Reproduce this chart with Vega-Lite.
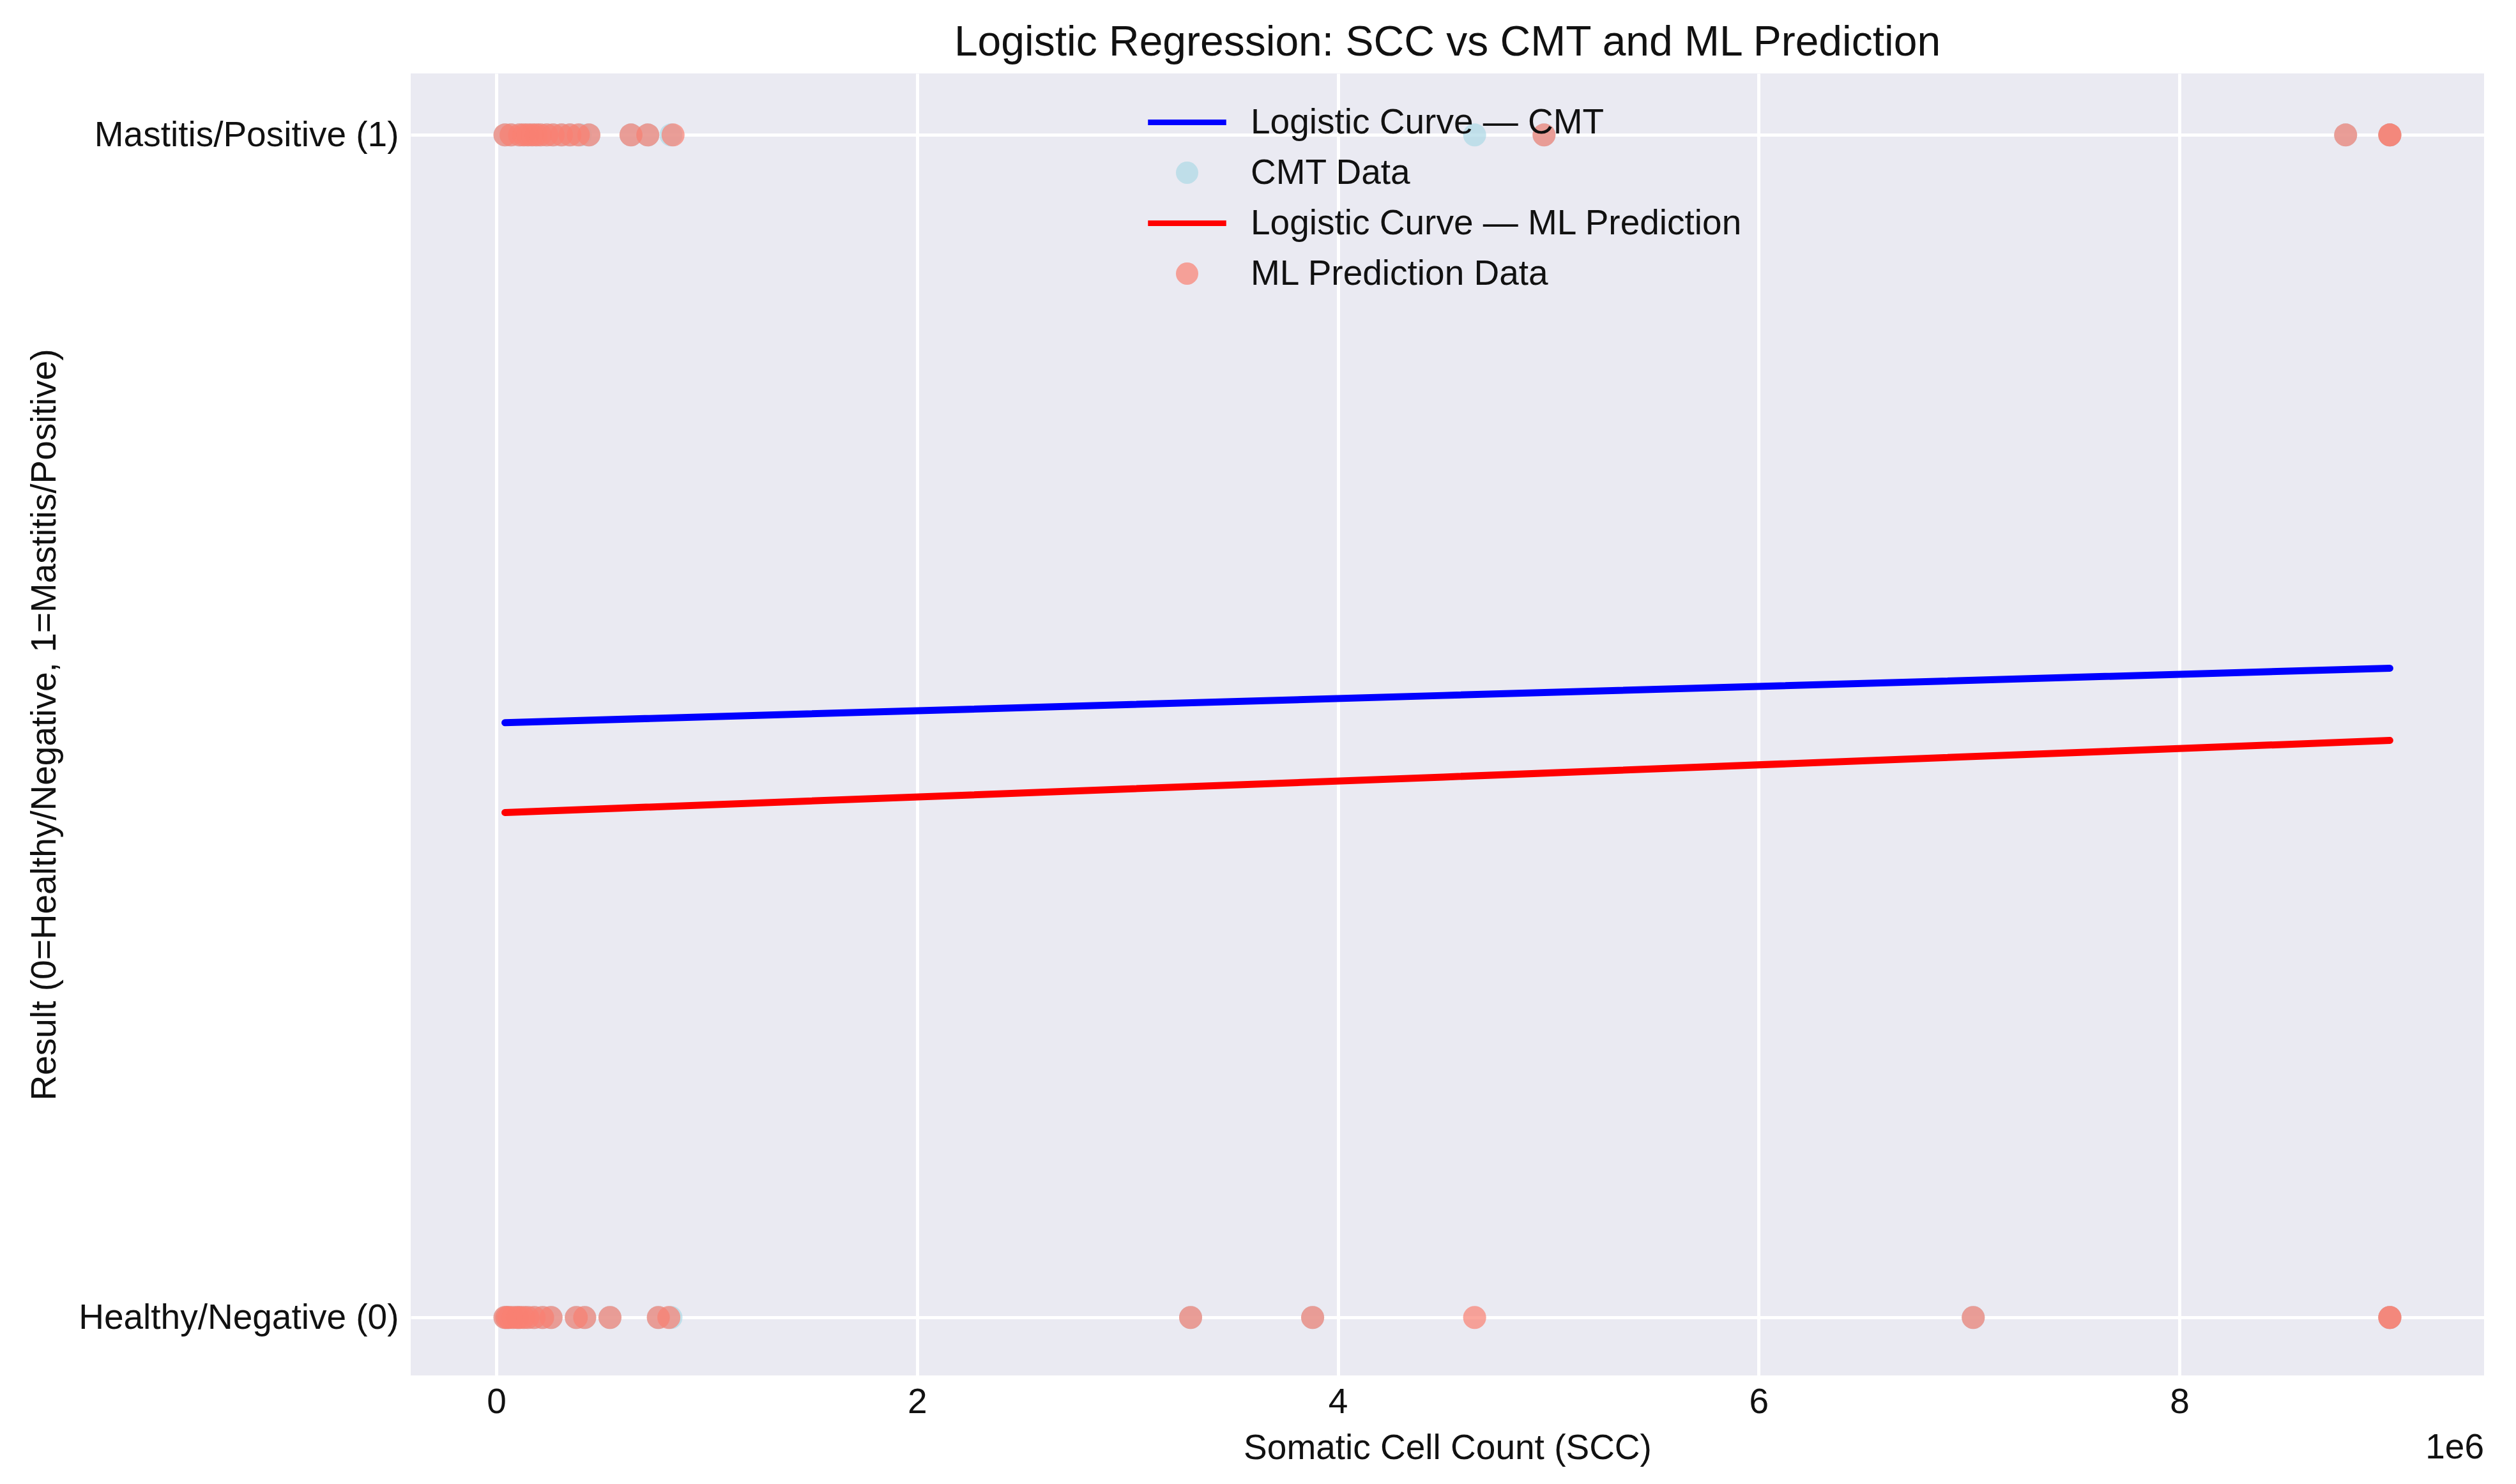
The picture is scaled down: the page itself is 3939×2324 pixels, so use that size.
{
  "$schema": "https://vega.github.io/schema/vega-lite/v6.json",
  "width": 3246,
  "height": 2039,
  "autosize": {"type": "none"},
  "padding": {"left": 643, "top": 115, "right": 50, "bottom": 170},
  "background": "white",
  "title": {
    "text": "Logistic Regression: SCC vs CMT and ML Prediction",
    "fontSize": 66,
    "fontWeight": "normal",
    "font": "Liberation Sans",
    "color": "#111111",
    "anchor": "middle",
    "frame": "group",
    "baseline": "bottom",
    "offset": -52
  },
  "datasets": {
    "curves": [
      {"series": "Logistic Curve — CMT", "scc": 41000, "result": 0.503},
      {"series": "Logistic Curve — CMT", "scc": 4500000, "result": 0.526},
      {"series": "Logistic Curve — CMT", "scc": 9000000, "result": 0.549},
      {"series": "Logistic Curve — ML Prediction", "scc": 41000, "result": 0.427},
      {"series": "Logistic Curve — ML Prediction", "scc": 4500000, "result": 0.457},
      {"series": "Logistic Curve — ML Prediction", "scc": 9000000, "result": 0.488}
    ],
    "points": [
      {"series": "CMT Data", "scc": 41000, "result": 1},
      {"series": "CMT Data", "scc": 70000, "result": 1},
      {"series": "CMT Data", "scc": 110000, "result": 1},
      {"series": "CMT Data", "scc": 130000, "result": 1},
      {"series": "CMT Data", "scc": 150000, "result": 1},
      {"series": "CMT Data", "scc": 170000, "result": 1},
      {"series": "CMT Data", "scc": 190000, "result": 1},
      {"series": "CMT Data", "scc": 210000, "result": 1},
      {"series": "CMT Data", "scc": 240000, "result": 1},
      {"series": "CMT Data", "scc": 270000, "result": 1},
      {"series": "CMT Data", "scc": 310000, "result": 1},
      {"series": "CMT Data", "scc": 350000, "result": 1},
      {"series": "CMT Data", "scc": 400000, "result": 1},
      {"series": "CMT Data", "scc": 440000, "result": 1},
      {"series": "CMT Data", "scc": 640000, "result": 1},
      {"series": "CMT Data", "scc": 720000, "result": 1},
      {"series": "CMT Data", "scc": 830000, "result": 1},
      {"series": "CMT Data", "scc": 4650000, "result": 1},
      {"series": "CMT Data", "scc": 4980000, "result": 1},
      {"series": "CMT Data", "scc": 8790000, "result": 1},
      {"series": "CMT Data", "scc": 9000000, "result": 1},
      {"series": "CMT Data", "scc": 9000000, "result": 1},
      {"series": "CMT Data", "scc": 41000, "result": 0},
      {"series": "CMT Data", "scc": 50000, "result": 0},
      {"series": "CMT Data", "scc": 60000, "result": 0},
      {"series": "CMT Data", "scc": 80000, "result": 0},
      {"series": "CMT Data", "scc": 100000, "result": 0},
      {"series": "CMT Data", "scc": 110000, "result": 0},
      {"series": "CMT Data", "scc": 130000, "result": 0},
      {"series": "CMT Data", "scc": 150000, "result": 0},
      {"series": "CMT Data", "scc": 180000, "result": 0},
      {"series": "CMT Data", "scc": 220000, "result": 0},
      {"series": "CMT Data", "scc": 260000, "result": 0},
      {"series": "CMT Data", "scc": 380000, "result": 0},
      {"series": "CMT Data", "scc": 420000, "result": 0},
      {"series": "CMT Data", "scc": 540000, "result": 0},
      {"series": "CMT Data", "scc": 770000, "result": 0},
      {"series": "CMT Data", "scc": 830000, "result": 0},
      {"series": "CMT Data", "scc": 3300000, "result": 0},
      {"series": "CMT Data", "scc": 3880000, "result": 0},
      {"series": "CMT Data", "scc": 7020000, "result": 0},
      {"series": "CMT Data", "scc": 9000000, "result": 0},
      {"series": "CMT Data", "scc": 9000000, "result": 0},
      {"series": "ML Prediction Data", "scc": 41000, "result": 1},
      {"series": "ML Prediction Data", "scc": 70000, "result": 1},
      {"series": "ML Prediction Data", "scc": 110000, "result": 1},
      {"series": "ML Prediction Data", "scc": 130000, "result": 1},
      {"series": "ML Prediction Data", "scc": 150000, "result": 1},
      {"series": "ML Prediction Data", "scc": 170000, "result": 1},
      {"series": "ML Prediction Data", "scc": 190000, "result": 1},
      {"series": "ML Prediction Data", "scc": 210000, "result": 1},
      {"series": "ML Prediction Data", "scc": 240000, "result": 1},
      {"series": "ML Prediction Data", "scc": 270000, "result": 1},
      {"series": "ML Prediction Data", "scc": 310000, "result": 1},
      {"series": "ML Prediction Data", "scc": 350000, "result": 1},
      {"series": "ML Prediction Data", "scc": 390000, "result": 1},
      {"series": "ML Prediction Data", "scc": 440000, "result": 1},
      {"series": "ML Prediction Data", "scc": 640000, "result": 1},
      {"series": "ML Prediction Data", "scc": 720000, "result": 1},
      {"series": "ML Prediction Data", "scc": 840000, "result": 1},
      {"series": "ML Prediction Data", "scc": 4980000, "result": 1},
      {"series": "ML Prediction Data", "scc": 8790000, "result": 1},
      {"series": "ML Prediction Data", "scc": 9000000, "result": 1},
      {"series": "ML Prediction Data", "scc": 9000000, "result": 1},
      {"series": "ML Prediction Data", "scc": 41000, "result": 0},
      {"series": "ML Prediction Data", "scc": 50000, "result": 0},
      {"series": "ML Prediction Data", "scc": 60000, "result": 0},
      {"series": "ML Prediction Data", "scc": 80000, "result": 0},
      {"series": "ML Prediction Data", "scc": 100000, "result": 0},
      {"series": "ML Prediction Data", "scc": 110000, "result": 0},
      {"series": "ML Prediction Data", "scc": 130000, "result": 0},
      {"series": "ML Prediction Data", "scc": 150000, "result": 0},
      {"series": "ML Prediction Data", "scc": 180000, "result": 0},
      {"series": "ML Prediction Data", "scc": 220000, "result": 0},
      {"series": "ML Prediction Data", "scc": 260000, "result": 0},
      {"series": "ML Prediction Data", "scc": 380000, "result": 0},
      {"series": "ML Prediction Data", "scc": 420000, "result": 0},
      {"series": "ML Prediction Data", "scc": 540000, "result": 0},
      {"series": "ML Prediction Data", "scc": 770000, "result": 0},
      {"series": "ML Prediction Data", "scc": 820000, "result": 0},
      {"series": "ML Prediction Data", "scc": 3300000, "result": 0},
      {"series": "ML Prediction Data", "scc": 3880000, "result": 0},
      {"series": "ML Prediction Data", "scc": 4650000, "result": 0},
      {"series": "ML Prediction Data", "scc": 7020000, "result": 0},
      {"series": "ML Prediction Data", "scc": 9000000, "result": 0},
      {"series": "ML Prediction Data", "scc": 9000000, "result": 0}
    ]
  },
  "layer": [
    {
      "data": {"name": "curves"},
      "mark": {"type": "line", "strokeWidth": 11, "strokeCap": "round"},
      "encoding": {
        "x": {
          "field": "scc",
          "type": "quantitative",
          "scale": {"domain": [-407000, 9448000], "nice": false, "zero": false},
          "axis": {
            "title": "Somatic Cell Count (SCC)",
            "values": [0, 2000000, 4000000, 6000000, 8000000],
            "labelExpr": "format(datum.value / 1000000, 'd')",
            "labelPadding": 15,
            "titlePadding": 18
          }
        },
        "y": {
          "field": "result",
          "type": "quantitative",
          "scale": {"domain": [-0.049, 1.052], "nice": false, "zero": false},
          "axis": {
            "title": "Result (0=Healthy/Negative, 1=Mastitis/Positive)",
            "values": [0, 1],
            "labelExpr": "datum.value == 1 ? 'Mastitis/Positive (1)' : 'Healthy/Negative (0)'",
            "labelPadding": 19,
            "labelLimit": 1000,
            "titlePadding": 345
          }
        },
        "color": {
          "field": "series",
          "type": "nominal",
          "scale": {
            "domain": ["Logistic Curve — CMT", "CMT Data", "Logistic Curve — ML Prediction", "ML Prediction Data"],
            "range": ["#0000ff", "#add8e6", "#ff0000", "#fa8072"]
          },
          "legend": {
            "title": null,
            "orient": "none",
            "legendX": 1188,
            "legendY": 49,
            "padding": 0,
            "symbolSize": 1225,
            "labelFontSize": 55,
            "labelOffset": 72,
            "rowPadding": 23,
            "labelLimit": 2000,
            "labelColor": "#111111",
            "encode": {
              "symbols": {
                "update": {
                  "shape": {"signal": "indexof(datum.value, 'Curve') >= 0 ? 'M-3.5,-0.25H3.5V0.25H-3.5Z' : 'circle'"},
                  "fill": {"scale": "color", "field": "value"},
                  "stroke": {"value": "transparent"},
                  "strokeWidth": {"value": 0},
                  "opacity": {"signal": "indexof(datum.value, 'Curve') >= 0 ? 1 : 0.7"}
                }
              }
            }
          }
        }
      }
    },
    {
      "data": {"name": "points"},
      "mark": {"type": "circle", "size": 1300, "opacity": 0.7},
      "encoding": {
        "x": {"field": "scc", "type": "quantitative"},
        "y": {"field": "result", "type": "quantitative"},
        "color": {"field": "series", "type": "nominal"}
      }
    },
    {
      "data": {"values": [{"label": "1e6"}]},
      "mark": {"type": "text", "align": "right", "baseline": "middle", "fontSize": 55, "color": "#111111", "font": "Liberation Sans"},
      "encoding": {
        "x": {"datum": 9448000, "type": "quantitative"},
        "y": {"datum": -0.11, "type": "quantitative"},
        "text": {"field": "label"}
      }
    }
  ],
  "config": {
    "font": "Liberation Sans",
    "view": {"fill": "#eaeaf2", "stroke": null},
    "axis": {
      "grid": true,
      "gridColor": "#ffffff",
      "gridWidth": 5,
      "gridOpacity": 1,
      "domain": false,
      "ticks": false,
      "labelFontSize": 55,
      "titleFontSize": 55,
      "titleFontWeight": "normal",
      "labelColor": "#111111",
      "titleColor": "#111111",
      "labelFlush": false,
      "labelOverlap": false,
      "labelBound": false
    }
  }
}
